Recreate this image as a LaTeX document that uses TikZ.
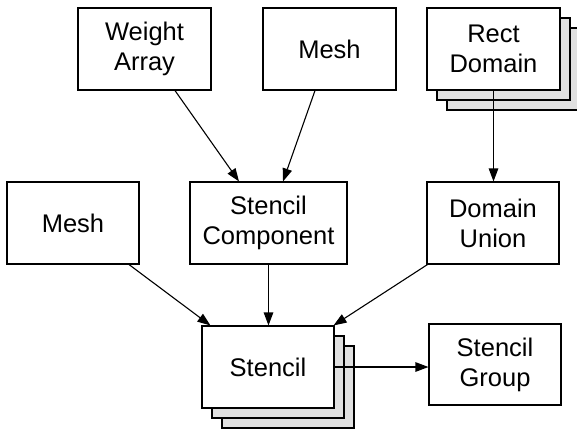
\documentclass[tikz,border=0pt]{standalone}
\usepackage{fontspec}
\setmainfont{Liberation Sans}
\usetikzlibrary{arrows.meta,calc}
\begin{document}
\begin{tikzpicture}[x=1pt,y=-1pt,
  box/.style={draw=black,line width=1.1pt,fill=white,align=center,inner sep=0pt,
    minimum height=82pt,font=\fontsize{25.5}{30}\selectfont},
  shadowbox/.style={draw=black,line width=1.1pt,fill=black!12},
  conn/.style={line width=1.1pt,-{Triangle[length=13pt,width=9.5pt]}}]
\useasboundingbox[fill=white] (0,0) rectangle (577,429);
% shadows behind the stacked nodes
\coordinate (rdsw) at (427,90);
\coordinate (rdne) at (560,8);
\draw[shadowbox] ($(rdsw)+(20,20)$) rectangle ($(rdne)+(20,20)$);
\draw[shadowbox] ($(rdsw)+(10,10)$) rectangle ($(rdne)+(10,10)$);
\coordinate (stsw) at (202,408);
\coordinate (stne) at (334,326);
\draw[shadowbox] ($(stsw)+(20,20)$) rectangle ($(stne)+(20,20)$);
\draw[shadowbox] ($(stsw)+(10,10)$) rectangle ($(stne)+(10,10)$);
% nodes
\node[box,minimum width=133pt] (wa) at (144.5,49) {Weight\\Array};
\node[box,minimum width=133pt] (m1) at (329.5,49) {Mesh};
\node[box,minimum width=133pt] (rd) at (493.5,49) {Rect\\Domain};
\node[box,minimum width=132pt] (m2) at (73,223) {Mesh};
\node[box,minimum width=157pt] (sc) at (268.5,223) {Stencil\\Component};
\node[box,minimum width=132pt] (du) at (493,223) {Domain\\Union};
\node[box,minimum width=132pt] (st) at (268,367) {Stencil};
\node[box,minimum width=132pt,minimum height=81pt] (sg) at (495,364.5) {Stencil\\Group};
% connectors
\draw[conn] ([xshift=30.5pt]wa.south) -- ([xshift=-29.5pt]sc.north);
\draw[conn] ([xshift=-14.5pt]m1.south) -- ([xshift=14.5pt]sc.north);
\draw[conn] (rd.south) -- (rd.south |- du.north);
\draw[conn] ([xshift=56pt]m2.south) -- ([xshift=9pt]st.north west);
\draw[conn] (sc.south) -- (sc.south |- st.north);
\draw[conn] ([xshift=1pt]du.south west) -- ([xshift=-1pt]st.north east);
\draw[conn] (st.east) -- (st.east -| sg.west);
\end{tikzpicture}
\end{document}
